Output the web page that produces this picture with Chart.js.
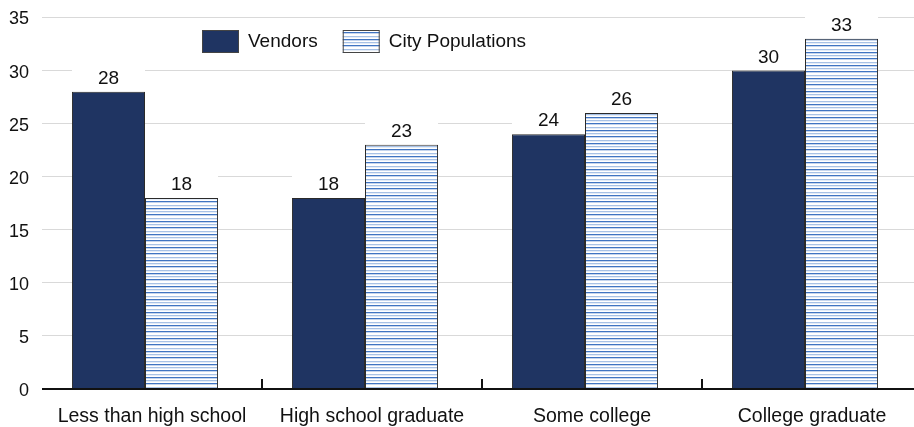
<!DOCTYPE html>
<html>
<head>
<meta charset="utf-8">
<script src="https://cdn.jsdelivr.net/npm/chart.js@4"></script>
<style>
  html, body { margin: 0; padding: 0; background: #fff; }
  #outer { width: 914px; height: 427px; overflow: hidden; }
  #wrap { width: 922px; height: 427px; }
</style>
</head>
<body>
<div id="outer"><div id="wrap"><canvas id="edu"></canvas></div></div>
<script>
const categories = ["Less than high school", "High school graduate", "Some college", "College graduate"];
const vendors = [28, 18, 24, 30];
const cityPopulations = [18, 23, 26, 33];
const yTicks = [0, 5, 10, 15, 20, 25, 30, 35];

const FONT = "'Liberation Sans', Arial, sans-serif";
const NAVY = "#1f3462";
const BAR_SHIFT = -7; // bar groups sit a little left of their category labels

// striped fill for the city bars: thin blue rules on white
function makeStripes() {
  const c = document.createElement("canvas");
  c.width = 8;
  c.height = 13;
  const g = c.getContext("2d");
  g.fillStyle = "#fff";
  g.fillRect(0, 0, 8, 13);
  [[0, "#3f74c2"], [3, "#a8c2e6"], [6, "#3f74c2"], [10, "#a8c2e6"]].forEach(([y, col]) => {
    g.fillStyle = col;
    g.fillRect(0, y, 8, 1.3);
  });
  return g.createPattern(c, "repeat");
}
const stripes = makeStripes();

// nudge the hidden bar axis before the bars are laid out
const shiftBars = {
  id: "shiftBars",
  afterLayout(chart) {
    const s = chart.scales.xb;
    s.left += BAR_SHIFT;
    s.right += BAR_SHIFT;
    s.configure();
  }
};

// value labels above each bar, with a white backing as wide as the bar
const valueLabels = {
  id: "valueLabels",
  afterDatasetsDraw(chart) {
    const ctx = chart.ctx;
    ctx.save();
    ctx.font = "19px " + FONT;
    ctx.textAlign = "center";
    ctx.textBaseline = "middle";
    chart.data.datasets.forEach((ds, i) => {
      chart.getDatasetMeta(i).data.forEach((bar, j) => {
        const txt = String(ds.data[j]);
        const y = bar.y - 13;
        ctx.fillStyle = "#fff";
        ctx.fillRect(bar.x - bar.width / 2, bar.y - 25, bar.width, 23);
        ctx.fillStyle = "#111";
        ctx.fillText(txt, bar.x, y);
      });
    });
    ctx.restore();
  }
};

// baseline, category separators and the in-plot legend
const frame = {
  id: "frame",
  afterDraw(chart) {
    const ctx = chart.ctx;
    const area = chart.chartArea;
    const x = chart.scales.x;
    ctx.save();
    ctx.strokeStyle = "#111";
    ctx.lineWidth = 2;
    ctx.beginPath();
    ctx.moveTo(area.left, area.bottom);
    ctx.lineTo(area.right, area.bottom);
    for (let i = 1; i < categories.length; i++) {
      const bx = Math.round((x.getPixelForValue(i - 1) + x.getPixelForValue(i)) / 2);
      ctx.moveTo(bx, area.bottom);
      ctx.lineTo(bx, area.bottom - 10);
    }
    ctx.stroke();

    // legend
    ctx.font = "19px " + FONT;
    ctx.textBaseline = "middle";
    ctx.textAlign = "left";
    let lx = 202;
    const ly = 30;
    chart.data.datasets.forEach((ds) => {
      ctx.fillStyle = ds.backgroundColor;
      ctx.fillRect(lx, ly, 37, 23);
      ctx.strokeStyle = "#444";
      ctx.lineWidth = 1;
      ctx.strokeRect(lx + 0.5, ly + 0.5, 36, 22);
      ctx.fillStyle = "#111";
      ctx.fillText(ds.label, lx + 46, ly + 12);
      lx += 46 + ctx.measureText(ds.label).width + 25;
    });
    ctx.restore();
  }
};

new Chart(document.getElementById("edu"), {
  type: "bar",
  data: {
    labels: categories,
    datasets: [
      {
        label: "Vendors",
        data: vendors,
        xAxisID: "xb",
        backgroundColor: NAVY,
        borderColor: "#2a2a2a",
        borderWidth: 1,
        borderSkipped: "bottom"
      },
      {
        label: "City Populations",
        data: cityPopulations,
        xAxisID: "xb",
        backgroundColor: stripes,
        borderColor: "#2a2a2a",
        borderWidth: 1,
        borderSkipped: "bottom"
      }
    ]
  },
  options: {
    responsive: true,
    maintainAspectRatio: false,
    animation: false,
    layout: { padding: { top: 17.5, right: 0, left: 0, bottom: 0 } },
    datasets: {
      bar: { categoryPercentage: 0.664, barPercentage: 1 }
    },
    plugins: {
      legend: { display: false },
      tooltip: { enabled: false }
    },
    scales: {
      x: {
        type: "category",
        offset: true,
        bounds: "ticks",
        grid: { display: false },
        border: { display: false },
        ticks: {
          color: "#111",
          font: { family: FONT, size: 19.5 },
          padding: 8,
          maxRotation: 0
        },
        afterFit(s) { s.height = 38; }
      },
      xb: {
        type: "category",
        axis: "x",
        offset: true,
        display: false
      },
      y: {
        min: 0,
        max: 35,
        afterBuildTicks(s) { s.ticks = yTicks.map(v => ({ value: v })); },
        grid: { color: "#d9d9d9", lineWidth: 1, drawTicks: false },
        border: { display: false },
        ticks: {
          color: "#111",
          font: { family: FONT, size: 18 },
          padding: 13,
          labelOffset: 2
        },
        afterFit(s) {
          s.width = 42;
          s.paddingTop = 0;
          s.paddingBottom = 0;
        }
      }
    }
  },
  plugins: [shiftBars, valueLabels, frame]
});
</script>
</body>
</html>
